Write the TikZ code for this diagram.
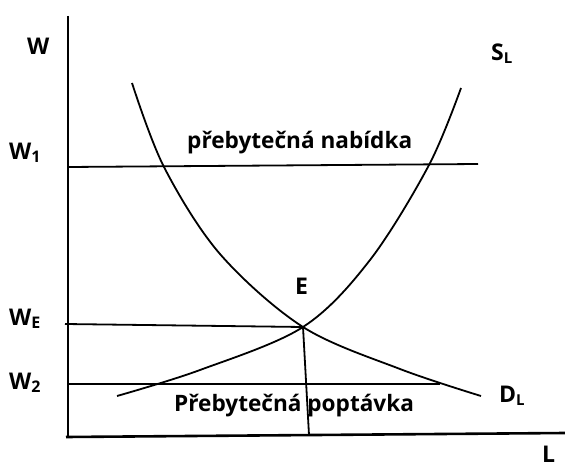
\documentclass[tikz,border=0pt]{standalone}
\usepackage{fontspec}
\setmainfont{Open Sans}
\begin{document}
\begin{tikzpicture}[x=1pt,y=-1pt,
  axisline/.style={line width=2.6pt},
  thinline/.style={line width=1.8pt},
  curveline/.style={line width=1.8pt},
  lbl/.style={font=\bfseries\fontsize{23}{26}\selectfont, inner sep=0pt},
  txt/.style={font=\bfseries\fontsize{22.6}{26}\selectfont, inner sep=0pt}]
\useasboundingbox (0,0) rectangle (565,468);
% axes
\coordinate (ytop) at (68,16);
\coordinate (ybot) at (68,438);
\coordinate (xl) at (66,437);
\coordinate (xr) at (565,433);
\draw[axisline] (ytop) -- (ybot);
\draw[axisline] (xl) -- (xr);
% key points
\coordinate (E) at (303,327);
\coordinate (w1a) at (68,167);
\coordinate (w1b) at (478,164);
\coordinate (wea) at (65,324);
\coordinate (w2a) at (68,384);
\coordinate (w2b) at (440,384);
\coordinate (Ebot) at (309,435);
\draw[thinline] (w1a) -- (w1b);
\draw[thinline] (wea) -- (E);
\draw[thinline] (w2a) -- (w2b);
\draw[thinline] (E) -- (Ebot);
% supply
\draw[curveline] plot[smooth, tension=0.55] coordinates {(117,396) (200,370) (303,327) (370,260) (429,165) (461,88)};
% demand
\draw[curveline] plot[smooth, tension=0.55] coordinates {(132,83) (164,167) (220,254) (303,327) (400,369) (481,396)};
% labels
\node[lbl, anchor=south west] (W) at (27,55) {W};
\node[lbl, anchor=south west] (W1) at (9,163) {W\textsubscript{\fontsize{16}{18}\selectfont 1}};
\node[lbl, anchor=south west] (WE) at (9,329) {W\textsubscript{\fontsize{16}{18}\selectfont E}};
\node[lbl, anchor=south west] (W2) at (9,393) {W\textsubscript{\fontsize{16}{18}\selectfont 2}};
\node[lbl, anchor=south west] (SL) at (491,64) {S\textsubscript{\fontsize{15}{16}\selectfont L}};
\node[lbl, anchor=south west] (DL) at (499,406) {D\textsubscript{\fontsize{15}{16}\selectfont L}};
\node[lbl, anchor=south west] (Elbl) at (295,295) {E};
\node[lbl, anchor=base west] (Llbl) at (542,462) {L};
\node[txt, anchor=base west] (nab) at (187,149) {přebytečná nabídka};
\node[txt, anchor=base west] (pop) at (174,411) {Přebytečná poptávka};
\end{tikzpicture}
\end{document}
